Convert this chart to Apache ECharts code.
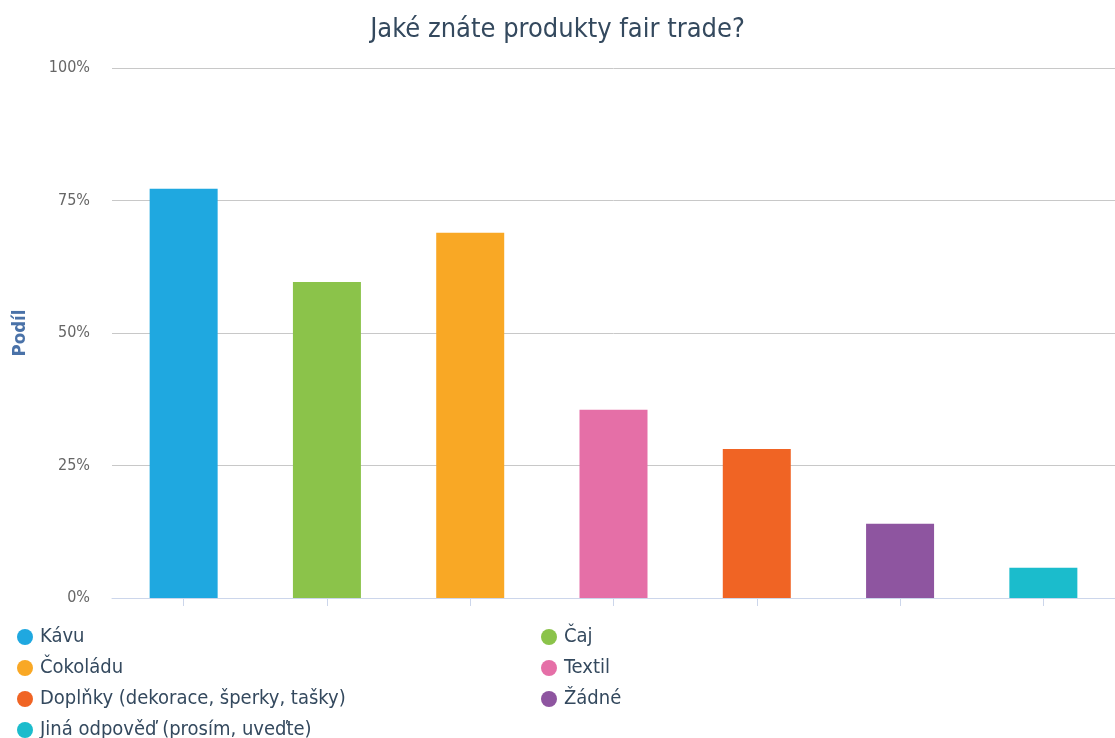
<!DOCTYPE html>
<html><head><meta charset="utf-8">
<script src="https://cdn.jsdelivr.net/npm/echarts@6/dist/echarts.min.js"></script>
<style>html,body{margin:0;padding:0;background:#fff}#c{width:1115px;height:738px}</style>
</head><body><div id="c"></div>
<script>
const categories = ['Kávu','Čaj','Čokoládu','Textil','Doplňky (dekorace, šperky, tašky)','Žádné','Jiná odpověď (prosím, uveďte)'];
const values = [77.2, 59.6, 68.9, 35.5, 28.1, 14.0, 5.7];
const colors = ['#1fa8e0','#8bc34a','#f9a825','#e56fa7','#f06424','#8e55a0','#1bbccc'];
const yTicks = [0, 25, 50, 75, 100];

const font = 'DejaVu Sans Condensed';
const series = categories.map((name, i) => ({
  name: name,
  type: 'bar',
  stack: 'all',
  barWidth: 68,
  itemStyle: { color: colors[i] },
  data: categories.map((c, j) => j === i ? values[i] : null)
}));

const chart = echarts.init(document.getElementById('c'));
chart.setOption({
  animation: false,
  color: colors,
  title: {
    text: 'Jaké znáte produkty fair trade?',
    left: 'center', top: 11,
    textStyle: { fontFamily: font, fontSize: 27, fontWeight: 'normal', color: '#34495e' }
  },
  legend: {
    left: 17, top: 626, width: 1090, padding: 0,
    orient: 'horizontal',
    icon: 'circle', itemWidth: 16, itemHeight: 16, itemGap: 9,
    textStyle: { fontFamily: font, fontSize: 20, color: '#34495e', width: 492, lineHeight: 22, padding: [0, 0, 0, 2] },
    data: categories
  },
  grid: { left: 112, right: 0, top: 68, bottom: 140, containLabel: false },
  xAxis: {
    type: 'category', data: categories,
    axisLine: { lineStyle: { color: '#ccd6eb' } },
    axisTick: { show: true, interval: 0, alignWithLabel: true, length: 8, lineStyle: { color: '#ccd6eb' } },
    axisLabel: { show: false, interval: 0 }
  },
  yAxis: {
    type: 'value', min: yTicks[0], max: yTicks[yTicks.length-1], interval: 25,
    name: 'Podíl', nameLocation: 'middle', nameGap: 82, nameRotate: 90,
    nameTextStyle: { fontFamily: font, fontSize: 18.5, fontWeight: 'bold', color: '#4a72a8' },
    axisLabel: { formatter: v => v + '%', fontFamily: font, fontSize: 16, color: '#666', margin: 22 },
    splitLine: { lineStyle: { color: '#c8c8c8' } },
    axisLine: { show: false }, axisTick: { show: false }
  },
  series: series
});
</script></body></html>
